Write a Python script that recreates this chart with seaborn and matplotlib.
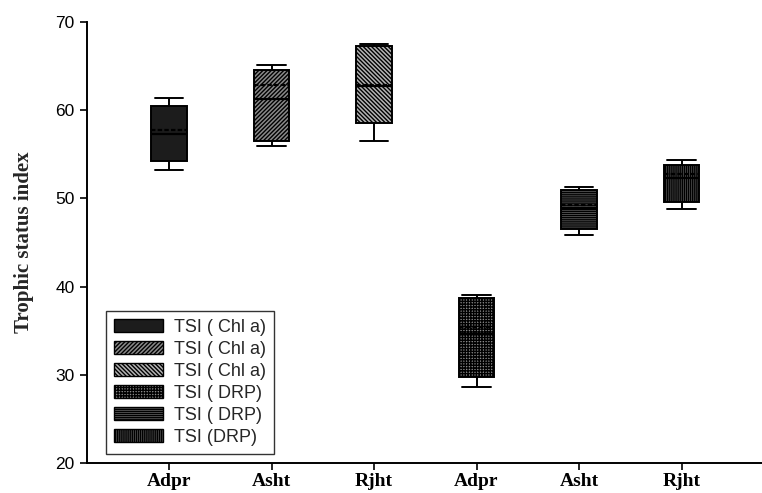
import numpy as np
import pandas as pd
import matplotlib
matplotlib.use("Agg")
import matplotlib.pyplot as plt
from matplotlib.patches import Patch
import seaborn as sns

# Box summaries for each site / index combination
sites = ["Adpr", "Asht", "Rjht", "Adpr", "Asht", "Rjht"]
groups = ["Chl a", "Chl a", "Chl a", "DRP", "DRP", "DRP"]
legend_labels = ["TSI ( Chl a)", "TSI ( Chl a)", "TSI ( Chl a)",
                 "TSI ( DRP)", "TSI ( DRP)", "TSI (DRP)"]

whisker_low = [53.2, 55.9, 56.5, 28.6, 45.8, 48.8]
q1 = [54.2, 56.5, 58.5, 29.8, 46.5, 49.6]
median = [57.3, 61.3, 62.7, 34.6, 48.8, 52.3]
q3 = [60.5, 64.5, 67.3, 38.7, 51.0, 53.8]
whisker_high = [61.4, 65.1, 67.5, 39.1, 51.3, 54.4]
mean = [57.8, 62.9, 62.9, 35.4, 49.2, 52.8]

# Box fills and hatches
face_colors = ["#1c1c1c", "#8a8a8a", "#b4b4b4", "#8a8a8a", "#6a6a6a", "#5a5a5a"]
hatches = [None, "/" * 8, "\\" * 8, "+" * 6, "-" * 8, "|" * 8]

# Long-form table: five summary values per box give the same quartiles/whiskers
ids = [f"{s}-{g}" for s, g in zip(sites, groups)]
rows = []
for i, key in enumerate(ids):
    for v in (whisker_low[i], q1[i], median[i], q3[i], whisker_high[i]):
        rows.append({"box": key, "TSI": v})
df = pd.DataFrame(rows)

sns.set_theme(style="ticks")
plt.rcParams["font.family"] = ["Liberation Sans", "DejaVu Sans"]
plt.rcParams["hatch.linewidth"] = 1.0
plt.rcParams["hatch.color"] = "black"

fig = plt.figure(figsize=(7.62, 4.93), dpi=100)
ax = fig.add_axes([0.1142, 0.0609, 0.8858, 0.8945])

box_width = 0.35
sns.boxplot(data=df, x="box", y="TSI", hue="box", order=ids, hue_order=ids,
            palette=face_colors, dodge=False, width=box_width, whis=(0, 100),
            linewidth=1.4, linecolor="black", legend=False, ax=ax,
            capwidths=0.28,
            medianprops={"color": "black", "linewidth": 1.6})

for patch, hatch in zip(ax.patches, hatches):
    patch.set_edgecolor("black")
    if hatch:
        patch.set_hatch(hatch)

# Mean line inside each box
pos = np.arange(len(ids))
ax.hlines(mean, pos - box_width / 2, pos + box_width / 2,
          colors="black", linewidth=1.6, linestyles=(0, (2, 1)), zorder=5)

ax.set_xlim(-0.8, 5.785)
ax.set_ylim(20, 70)
ax.set_yticks([20, 30, 40, 50, 60, 70])
ax.set_xticks(pos)
ax.set_xticklabels(sites, fontfamily="Liberation Serif", fontweight="bold",
                   fontsize=14)
ax.tick_params(axis="y", labelsize=12.5, length=5, width=1.2, direction="out",
               colors="black", pad=4)
ax.tick_params(axis="x", length=5, width=1.2, direction="out", pad=2,
               colors="black")
ax.set_xlabel("")
ax.set_ylabel("Trophic status index", fontfamily="Liberation Serif",
              fontweight="bold", fontsize=15, labelpad=15)
for side in ("top", "right"):
    ax.spines[side].set_visible(False)
for side in ("left", "bottom"):
    ax.spines[side].set_linewidth(1.4)
    ax.spines[side].set_color("black")

handles = [Patch(facecolor=c, edgecolor="black", hatch=h, linewidth=1.0)
           for c, h in zip(face_colors, hatches)]
leg = ax.legend(handles, legend_labels, loc="lower left",
                bbox_to_anchor=(0.028, 0.02), borderaxespad=0,
                fontsize=13, frameon=True, fancybox=False,
                handlelength=2.7, handleheight=0.75, handletextpad=0.6,
                labelspacing=0.28, borderpad=0.45)
leg.get_frame().set_edgecolor("black")
leg.get_frame().set_linewidth(1.0)

fig.savefig("out.png", dpi=100)
